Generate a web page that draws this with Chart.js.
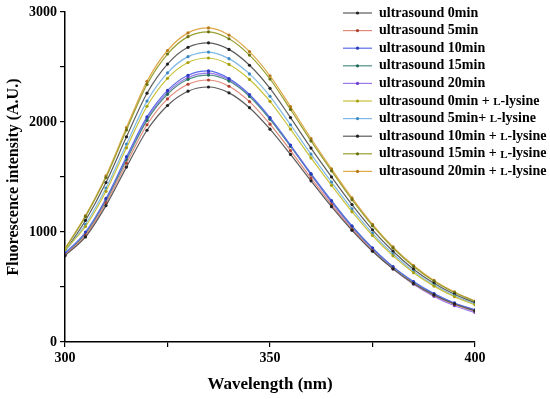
<!DOCTYPE html>
<html>
<head>
<meta charset="utf-8">
<script src="https://cdn.jsdelivr.net/npm/chart.js@4/dist/chart.umd.min.js"></script>
<style>
  html, body { margin: 0; padding: 0; background: #fff; }
  #wrap { width: 550px; height: 399px; }
</style>
</head>
<body>
<div id="wrap"><canvas id="myChart" width="550" height="399"></canvas></div>
<script>
// Wavelength (nm)
const wavelengths = [300, 305, 310, 315, 320, 325, 330, 335, 340, 345, 350, 355, 360, 365, 370, 375, 380, 385, 390, 395, 400];

// Fluorescence intensity (A.U.)
const us0 = [785, 955, 1240, 1590, 1925, 2150, 2280, 2318, 2265, 2130, 1935, 1705, 1465, 1230, 1015, 825, 665, 532, 428, 346, 284];
const us5 = [790, 970, 1265, 1625, 1975, 2210, 2343, 2382, 2325, 2185, 1980, 1740, 1490, 1250, 1025, 830, 665, 530, 425, 342, 280];
const us10 = [805, 1000, 1305, 1685, 2046, 2287, 2425, 2464, 2395, 2250, 2040, 1790, 1530, 1285, 1055, 855, 685, 550, 440, 355, 292];
const us15 = [795, 985, 1285, 1655, 2015, 2252, 2388, 2427, 2372, 2232, 2025, 1780, 1525, 1280, 1050, 850, 680, 545, 435, 350, 288];
const us20 = [800, 990, 1295, 1670, 2030, 2270, 2405, 2445, 2385, 2240, 2030, 1780, 1520, 1270, 1040, 835, 665, 525, 415, 330, 268];
const us0L = [840, 1050, 1370, 1765, 2143, 2397, 2541, 2582, 2523, 2387, 2188, 1935, 1673, 1424, 1185, 968, 783, 630, 508, 412, 338];
const us5L = [820, 1070, 1400, 1800, 2190, 2447, 2594, 2636, 2576, 2437, 2234, 1975, 1708, 1454, 1210, 988, 800, 642, 518, 421, 345];
const us10L = [825, 1105, 1450, 1865, 2262, 2527, 2679, 2720, 2660, 2516, 2306, 2040, 1763, 1501, 1249, 1020, 825, 662, 534, 434, 355];
const us15L = [845, 1140, 1495, 1928, 2342, 2618, 2776, 2820, 2757, 2608, 2391, 2114, 1828, 1556, 1294, 1057, 855, 687, 553, 450, 368];
const us20L = [850, 1150, 1510, 1950, 2370, 2650, 2810, 2855, 2790, 2640, 2420, 2140, 1850, 1575, 1310, 1070, 865, 695, 560, 455, 372];

const seriesNames = ['ultrasound 0min', 'ultrasound 5min', 'ultrasound 10min', 'ultrasound 15min', 'ultrasound 20min',
    'ultrasound 0min + ', 'ultrasound 5min+ ', 'ultrasound 10min + ', 'ultrasound 15min + ', 'ultrasound 20min + '];
const seriesData = [us0, us5, us10, us15, us20, us0L, us5L, us10L, us15L, us20L];
const lineColors = ['#5a5a5a', '#e08a7a', '#5a6ee8', '#4f8f86', '#9a78ea', '#c9c23a', '#7fb8e6', '#5c5c5c', '#9aa030', '#e0a848'];
const dotColors = ['#222222', '#b04030', '#2a3ac0', '#1f6a5a', '#7040d0', '#a8a010', '#3a88c0', '#202020', '#6a7010', '#b87818'];

const datasets = seriesData.map((vals, i) => ({
    label: seriesNames[i],
    data: wavelengths.map((w, j) => ({ x: w, y: vals[j] })),
    borderColor: lineColors[i],
    backgroundColor: dotColors[i],
    pointBackgroundColor: dotColors[i],
    pointBorderWidth: 0,
    pointRadius: 1.6,
    borderWidth: 1.2,
    cubicInterpolationMode: 'monotone',
    fill: false
}));

const serif = "'Liberation Serif', 'Times New Roman', serif";

// legend drawn inside the plot, top right
const legendPlugin = {
    id: 'insideLegend',
    afterDraw(chart) {
        const ctx = chart.ctx;
        ctx.save();
        seriesNames.forEach((name, i) => {
            const y = 13 + i * 17.6;
            ctx.strokeStyle = lineColors[i];
            ctx.lineWidth = 1.2;
            ctx.beginPath();
            ctx.moveTo(343, y);
            ctx.lineTo(372, y);
            ctx.stroke();
            ctx.fillStyle = dotColors[i];
            ctx.beginPath();
            ctx.arc(357.5, y, 1.6, 0, Math.PI * 2);
            ctx.fill();
            ctx.fillStyle = '#000';
            ctx.textBaseline = 'middle';
            ctx.font = 'bold 14px ' + serif;
            ctx.fillText(name, 379, y);
            if (i >= 5) {
                let x = 379 + ctx.measureText(name).width;
                ctx.font = 'bold 11px ' + serif;
                ctx.fillText('L', x, y + 1);
                x += ctx.measureText('L').width;
                ctx.font = 'bold 14px ' + serif;
                ctx.fillText('-lysine', x, y);
            }
        });
        ctx.restore();
    }
};

new Chart(document.getElementById('myChart'), {
    type: 'line',
    data: { datasets: datasets },
    plugins: [legendPlugin],
    options: {
        responsive: false,
        animation: false,
        layout: { padding: { top: 12, right: 75, left: 0, bottom: 0 } },
        plugins: {
            legend: { display: false },
            tooltip: { enabled: false }
        },
        scales: {
            x: {
                type: 'linear',
                min: 300,
                max: 400,
                border: { color: '#000', width: 1.5 },
                grid: { drawOnChartArea: false, drawTicks: true, tickLength: 5, color: '#000', lineWidth: 1.2 },
                ticks: {
                    stepSize: 25,
                    color: '#000',
                    padding: 3,
                    font: { family: serif, size: 14, weight: 'bold' },
                    callback: v => (v % 50 === 0 ? v : '')
                },
                title: {
                    display: true,
                    text: 'Wavelength (nm)',
                    color: '#000',
                    font: { family: serif, size: 17, weight: 'bold' },
                    padding: { top: 5 }
                },
                afterFit: s => { s.height = 57; }
            },
            y: {
                min: 0,
                max: 3000,
                border: { color: '#000', width: 1.5 },
                grid: { drawOnChartArea: false, drawTicks: true, tickLength: 5, color: '#000', lineWidth: 1.2 },
                ticks: {
                    stepSize: 500,
                    color: '#000',
                    padding: 3,
                    font: { family: serif, size: 14, weight: 'bold' },
                    callback: v => (v % 1000 === 0 ? v : '')
                },
                title: {
                    display: true,
                    text: 'Fluorescence intensity (A.U.)',
                    color: '#000',
                    font: { family: serif, size: 16, weight: 'bold' },
                    padding: { bottom: 4 }
                },
                afterFit: s => { s.width = 65; }
            }
        }
    }
});
</script>
</body>
</html>
